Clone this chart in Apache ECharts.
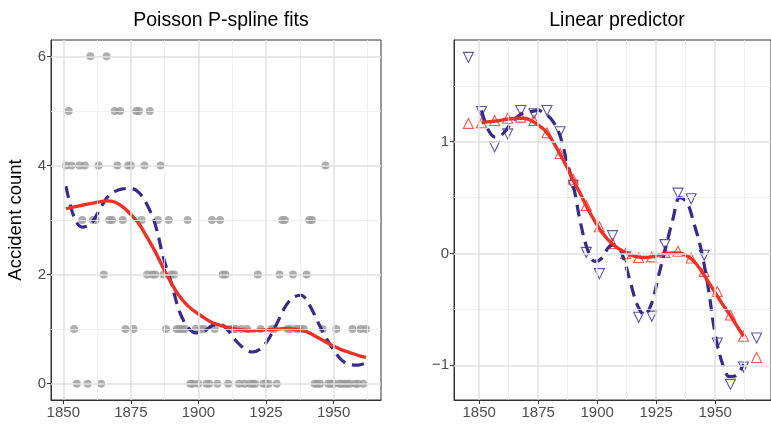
<!DOCTYPE html>
<html>
<head>
<meta charset="utf-8">
<title>Poisson P-spline fits</title>
<script src="https://cdn.jsdelivr.net/npm/echarts@6/dist/echarts.min.js"></script>
<style>
  html, body { margin: 0; padding: 0; background: #fff; }
  #chart { width: 771px; height: 428px; }
</style>
</head>
<body>
<div id="chart"></div>
<script>
// yearly accident counts (left panel points)
const years = [
  1851, 1852, 1853, 1854, 1855, 1856, 1857, 1858, 1859, 1860,
  1861, 1862, 1863, 1864, 1865, 1866, 1867, 1868, 1869, 1870,
  1871, 1872, 1873, 1874, 1875, 1876, 1877, 1878, 1879, 1880,
  1881, 1882, 1883, 1884, 1885, 1886, 1887, 1888, 1889, 1890,
  1891, 1892, 1893, 1894, 1895, 1896, 1897, 1898, 1899, 1900,
  1901, 1902, 1903, 1904, 1905, 1906, 1907, 1908, 1909, 1910,
  1911, 1912, 1913, 1914, 1915, 1916, 1917, 1918, 1919, 1920,
  1921, 1922, 1923, 1924, 1925, 1926, 1927, 1928, 1929, 1930,
  1931, 1932, 1933, 1934, 1935, 1936, 1937, 1938, 1939, 1940,
  1941, 1942, 1943, 1944, 1945, 1946, 1947, 1948, 1949, 1950,
  1951, 1952, 1953, 1954, 1955, 1956, 1957, 1958, 1959, 1960,
  1961, 1962
];
const counts = [
  4, 5, 4, 1, 0, 4, 3, 4, 0, 6,
  3, 3, 4, 0, 2, 6, 3, 3, 5, 4,
  5, 3, 1, 4, 4, 1, 5, 5, 3, 4,
  2, 5, 2, 2, 3, 4, 2, 1, 3, 2,
  2, 1, 1, 1, 1, 3, 0, 0, 1, 0,
  1, 1, 0, 0, 3, 1, 0, 3, 2, 2,
  0, 1, 1, 1, 0, 1, 0, 1, 0, 0,
  0, 2, 1, 0, 0, 0, 1, 1, 0, 2,
  3, 3, 1, 1, 2, 1, 1, 1, 1, 2,
  3, 3, 0, 0, 0, 1, 4, 0, 0, 0,
  1, 0, 0, 0, 0, 0, 1, 0, 0, 1,
  0, 1
];

// fitted curves, read every 3 years
const curveYears = [
  1851, 1854, 1857, 1860, 1863, 1866, 1869, 1872, 1875, 1878,
  1881, 1884, 1887, 1890, 1893, 1896, 1899, 1902, 1905, 1908,
  1911, 1914, 1917, 1920, 1923, 1926, 1929, 1932, 1935, 1938,
  1941, 1944, 1947, 1950, 1953, 1956, 1959, 1962
];
const fitSmooth = [
  3.21, 3.24, 3.27, 3.3, 3.33, 3.35, 3.33, 3.24, 3.1, 2.93,
  2.68, 2.42, 2.12, 1.84, 1.6, 1.43, 1.31, 1.21, 1.12, 1.07,
  1.03, 1.0, 0.98, 0.97, 0.98, 0.99, 1.0, 1.01, 1.0, 0.98,
  0.93, 0.85, 0.77, 0.69, 0.62, 0.57, 0.52, 0.48
];
const fitRough = [
  3.62, 3.05, 2.87, 2.92, 3.15, 3.4, 3.52, 3.57, 3.58, 3.5,
  3.28, 2.92, 2.32, 1.84, 1.32, 1.04, 0.93, 0.96, 1.06, 1.09,
  0.97, 0.78, 0.64, 0.58, 0.64, 0.82, 1.1, 1.4, 1.58, 1.62,
  1.45, 1.15, 0.86, 0.62, 0.43, 0.35, 0.34, 0.38
];
const etaSmooth = [
  1.17, 1.18, 1.185, 1.195, 1.205, 1.21, 1.21, 1.19, 1.15, 1.1,
  1.01, 0.9, 0.78, 0.65, 0.53, 0.4, 0.29, 0.19, 0.115, 0.06,
  0.02, -0.01, -0.03, -0.035, -0.03, -0.015, 0.0, 0.005, 0.005, -0.02,
  -0.07, -0.15, -0.25, -0.35, -0.45, -0.54, -0.64, -0.74
];
const etaRough = [
  1.28, 1.1, 1.04, 1.07, 1.15, 1.22, 1.26, 1.27, 1.28, 1.25,
  1.19, 1.07, 0.84, 0.6, 0.27, 0.03, -0.07, -0.04, 0.06, 0.08,
  -0.03, -0.25, -0.46, -0.55, -0.45, -0.2, 0.05, 0.3, 0.5, 0.46,
  0.27, 0.04, -0.3, -0.72, -0.98, -1.1, -1.09, -0.99
];

// B-spline coefficients (right panel triangles)
const knots = [
  1845.45, 1851, 1856.55, 1862.1, 1867.65, 1873.2, 1878.75, 1884.3,
  1889.85, 1895.4, 1900.95, 1906.5, 1912.05, 1917.6, 1923.15, 1928.7,
  1934.25, 1939.8, 1945.35, 1950.9, 1956.45, 1962, 1967.55
];
const coefSmooth = [
  1.164, 1.17, 1.19, 1.21, 1.22, 1.19, 1.08, 0.895, 0.665, 0.43, 0.24, 0.09,
  0.0, -0.036, -0.03, 0.01, 0.02, -0.04, -0.16, -0.34, -0.55, -0.74, -0.93
];
const coefRough = [
  1.755, 1.27, 0.955, 1.07, 1.28, 1.25, 1.28, 1.09, 0.61, 0.01, -0.18, 0.16,
  -0.03, -0.57, -0.56, 0.08, 0.54, 0.49, -0.015, -0.8, -1.17, -1.015, -0.755
];

// ticks
const xMajor = [1850, 1875, 1900, 1925, 1950];
const xMinor = [1862.5, 1887.5, 1912.5, 1937.5, 1962.5];
const yMajorL = [0, 2, 4, 6];
const yMinorL = [1, 3, 5];
const yMajorR = [-1, 0, 1];
const yMinorR = [-0.5, 0.5, 1.5];

const RED = '#ee3127';
const BLUE = '#372b8c';
const GREY = '#9a9a9a';
const FONT = 'Liberation Sans, Arial, sans-serif';

function zip(xs, ys) {
  return xs.map((x, i) => [x, ys[i]]);
}

function fmt(v) {
  return v < 0 ? '\u2212' + Math.abs(v) : String(v);
}

// panel grid lines as markLines (ticks are not aligned with the axis min)
function gridLines(idx, xMaj, xMin, yMaj, yMin) {
  const major = { color: '#e0e0e0', width: 1.5, type: 'solid' };
  const minor = { color: '#ececec', width: 0.8, type: 'solid' };
  const data = [];
  xMin.forEach(v => data.push({ xAxis: v, lineStyle: minor }));
  yMin.forEach(v => data.push({ yAxis: v, lineStyle: minor }));
  xMaj.forEach(v => data.push({ xAxis: v, lineStyle: major }));
  yMaj.forEach(v => data.push({ yAxis: v, lineStyle: major }));
  return {
    type: 'line',
    xAxisIndex: idx,
    yAxisIndex: idx,
    data: [],
    z: 1,
    silent: true,
    markLine: {
      silent: true,
      symbol: ['none', 'none'],
      label: { show: false },
      animation: false,
      data: data
    }
  };
}

function xAxisCfg(idx, min, max) {
  return {
    type: 'value',
    gridIndex: idx,
    min: min,
    max: max,
    axisLine: { show: true, onZero: false, lineStyle: { color: '#333', width: 1 } },
    axisTick: { show: true, customValues: xMajor, length: 4, lineStyle: { color: '#333' } },
    axisLabel: { customValues: xMajor, color: '#4d4d4d', fontSize: 15, margin: 5, fontFamily: FONT, formatter: fmt },
    splitLine: { show: false }
  };
}

function yAxisCfg(idx, min, max, ticks, extra) {
  return Object.assign({
    type: 'value',
    gridIndex: idx,
    min: min,
    max: max,
    axisLine: { show: true, onZero: false, lineStyle: { color: '#333', width: 1 } },
    axisTick: { show: true, customValues: ticks, length: 4, lineStyle: { color: '#333' } },
    axisLabel: { customValues: ticks, color: '#4d4d4d', fontSize: 15, margin: 5, fontFamily: FONT, formatter: fmt },
    splitLine: { show: false }
  }, extra || {});
}

const chart = echarts.init(document.getElementById('chart'), null, { renderer: 'canvas' });

chart.setOption({
  animation: false,
  backgroundColor: '#ffffff',
  textStyle: { fontFamily: FONT },
  title: [
    { text: 'Poisson P-spline fits', left: 216, top: 6, textAlign: 'center',
      textStyle: { fontSize: 19.5, fontWeight: 'normal', color: '#000', fontFamily: FONT } },
    { text: 'Linear predictor', left: 612, top: 6, textAlign: 'center',
      textStyle: { fontSize: 19.5, fontWeight: 'normal', color: '#000', fontFamily: FONT } }
  ],
  grid: [
    { left: 51, top: 40, width: 330, height: 360, show: true, borderColor: '#333', borderWidth: 1, backgroundColor: '#fff' },
    { left: 454, top: 40, width: 323.5, height: 360, show: true, borderColor: '#333', borderWidth: 1, backgroundColor: '#fff' }
  ],
  xAxis: [
    xAxisCfg(0, 1845.45, 1967.55),
    xAxisCfg(1, 1839.35, 1973.65)
  ],
  yAxis: [
    yAxisCfg(0, -0.3, 6.3, yMajorL, {
      name: 'Accident count',
      nameLocation: 'middle',
      nameGap: 26,
      nameTextStyle: { fontSize: 18.5, color: '#000', fontFamily: FONT }
    }),
    yAxisCfg(1, -1.31, 1.91, yMajorR)
  ],
  series: [
    gridLines(0, xMajor, xMinor, yMajorL, yMinorL),
    gridLines(1, xMajor, xMinor, yMajorR, yMinorR),
    {
      name: 'counts',
      type: 'scatter',
      xAxisIndex: 0, yAxisIndex: 0,
      data: zip(years, counts),
      symbolSize: 8,
      itemStyle: { color: GREY },
      z: 2
    },
    {
      name: 'rough fit',
      type: 'line',
      xAxisIndex: 0, yAxisIndex: 0,
      data: zip(curveYears, fitRough),
      smooth: 0.35,
      showSymbol: false,
      lineStyle: { color: BLUE, width: 3.2, type: [12, 7] },
      z: 3
    },
    {
      name: 'smooth fit',
      type: 'line',
      xAxisIndex: 0, yAxisIndex: 0,
      data: zip(curveYears, fitSmooth),
      smooth: 0.35,
      showSymbol: false,
      lineStyle: { color: RED, width: 3.4 },
      z: 4
    },
    {
      name: 'coef rough',
      type: 'scatter',
      xAxisIndex: 1, yAxisIndex: 1,
      data: zip(knots, coefRough),
      symbol: 'triangle',
      symbolRotate: 180,
      symbolSize: 10,
      itemStyle: { color: 'rgba(0,0,0,0)', borderColor: BLUE, borderWidth: 1.1 },
      z: 2
    },
    {
      name: 'coef smooth',
      type: 'scatter',
      xAxisIndex: 1, yAxisIndex: 1,
      data: zip(knots, coefSmooth),
      symbol: 'triangle',
      symbolSize: 10,
      itemStyle: { color: 'rgba(0,0,0,0)', borderColor: RED, borderWidth: 1.1 },
      z: 2
    },
    {
      name: 'eta rough',
      type: 'line',
      xAxisIndex: 1, yAxisIndex: 1,
      data: zip(curveYears, etaRough),
      smooth: 0.35,
      showSymbol: false,
      lineStyle: { color: BLUE, width: 3.2, type: [12, 7] },
      z: 3
    },
    {
      name: 'eta smooth',
      type: 'line',
      xAxisIndex: 1, yAxisIndex: 1,
      data: zip(curveYears, etaSmooth),
      smooth: 0.35,
      showSymbol: false,
      lineStyle: { color: RED, width: 3.4 },
      z: 4
    }
  ]
});
</script>
</body>
</html>
